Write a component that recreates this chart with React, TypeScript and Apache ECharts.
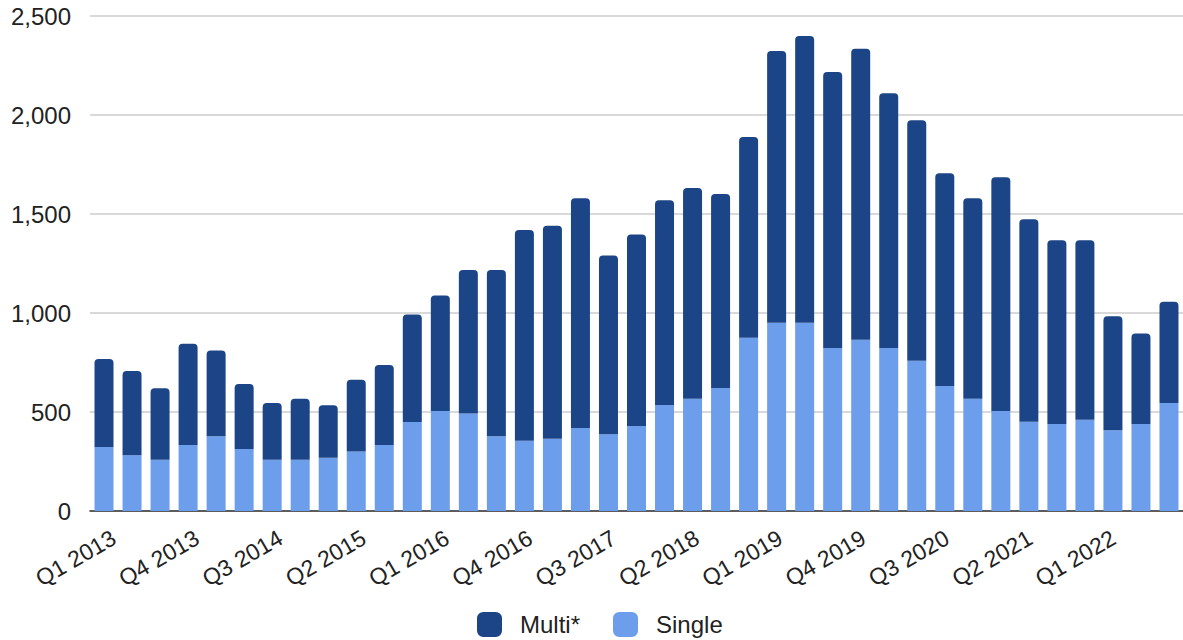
import React, { useEffect, useRef } from "react";
import * as echarts from "echarts";

const categories: string[] = [
  "Q1 2013", "Q2 2013", "Q3 2013", "Q4 2013",
  "Q1 2014", "Q2 2014", "Q3 2014", "Q4 2014",
  "Q1 2015", "Q2 2015", "Q3 2015", "Q4 2015",
  "Q1 2016", "Q2 2016", "Q3 2016", "Q4 2016",
  "Q1 2017", "Q2 2017", "Q3 2017", "Q4 2017",
  "Q1 2018", "Q2 2018", "Q3 2018", "Q4 2018",
  "Q1 2019", "Q2 2019", "Q3 2019", "Q4 2019",
  "Q1 2020", "Q2 2020", "Q3 2020", "Q4 2020",
  "Q1 2021", "Q2 2021", "Q3 2021", "Q4 2021",
  "Q1 2022", "Q2 2022", "Q3 2022",
];

const singleValues: number[] = [
  323, 281, 259, 333, 377, 313, 259, 259, 269, 301, 333, 449,
  505, 493, 377, 355, 365, 419, 387, 429, 535, 567, 621, 875,
  951, 951, 823, 865, 823, 759, 631, 567, 505, 451, 439, 461,
  408, 439, 545,
];

const multiValues: number[] = [
  445, 426, 361, 512, 434, 328, 286, 308, 265, 362, 404, 543,
  584, 724, 840, 1064, 1076, 1160, 904, 968, 1034, 1064, 980, 1014,
  1372, 1448, 1394, 1470, 1287, 1214, 1075, 1012, 1180, 1022, 928, 906,
  575, 458, 512,
];

const yTicks = { min: 0, max: 2500, interval: 500 };

const MULTI_COLOR = "#1c4587";
const SINGLE_COLOR = "#6d9eeb";
const FONT = "'Liberation Sans', Arial, sans-serif";

export default function App() {
  const ref = useRef<HTMLDivElement>(null);

  useEffect(() => {
    document.body.style.margin = "0";
    if (!ref.current) return;
    const chart = echarts.init(ref.current, null, { renderer: "svg" });
    chart.setOption({
      animation: false,
      backgroundColor: "#ffffff",
      textStyle: { fontFamily: FONT },
      legend: {
        data: ["Multi*", "Single"],
        left: 472,
        top: 607,
        itemWidth: 25,
        itemHeight: 25,
        itemGap: 33,
        icon: "roundRect",
        textStyle: {
          fontSize: 24,
          lineHeight: 24,
          color: "#222222",
          fontFamily: FONT,
          padding: [0, 0, 0, 13],
        },
      },
      grid: [
        { left: 90, right: -11, top: 16, bottom: 129, containLabel: false },
        { left: 100, right: -21, top: 16, bottom: 129, containLabel: false },
      ],
      xAxis: [
        {
          type: "category",
          gridIndex: 0,
          data: categories,
          axisTick: { show: false },
          axisLine: { show: true, lineStyle: { color: "#333333", width: 1.5 } },
          axisLabel: { show: false },
        },
        {
          type: "category",
          gridIndex: 1,
          data: categories,
          axisTick: { show: false },
          axisLine: { show: false },
          axisLabel: {
            show: true,
            interval: 2,
            rotate: 30,
            margin: 25,
            fontSize: 23,
            color: "#222222",
            fontFamily: FONT,
          },
        },
      ],
      yAxis: [
        {
          type: "value",
          gridIndex: 0,
          min: yTicks.min,
          max: yTicks.max,
          interval: yTicks.interval,
          axisLine: { show: false },
          axisTick: { show: false },
          splitLine: { lineStyle: { color: "#cccccc", width: 1.5 } },
          axisLabel: {
            fontSize: 24,
            color: "#222222",
            margin: 19,
            fontFamily: FONT,
            formatter: (v: number) => v.toLocaleString("en-US"),
          },
        },
        {
          type: "value",
          gridIndex: 1,
          min: yTicks.min,
          max: yTicks.max,
          show: false,
        },
      ],
      series: [
        {
          name: "Single",
          type: "bar",
          stack: "total",
          xAxisIndex: 0,
          yAxisIndex: 0,
          data: singleValues,
          barWidth: 19,
          itemStyle: { color: SINGLE_COLOR },
        },
        {
          name: "Multi*",
          type: "bar",
          stack: "total",
          xAxisIndex: 0,
          yAxisIndex: 0,
          data: multiValues,
          barWidth: 19,
          itemStyle: { color: MULTI_COLOR, borderRadius: [4, 4, 0, 0] },
        },
      ],
    });
    return () => chart.dispose();
  }, []);

  return <div ref={ref} style={{ width: 1183, height: 640 }} />;
}
